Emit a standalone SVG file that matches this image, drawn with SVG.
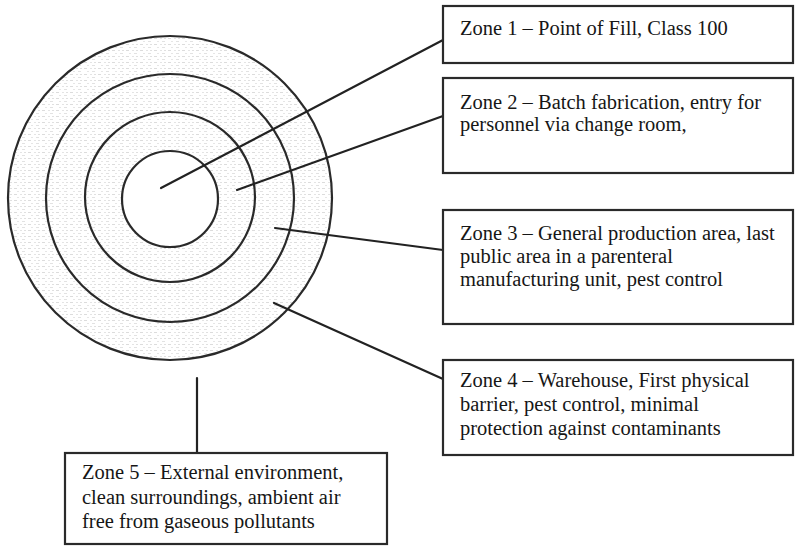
<svg xmlns="http://www.w3.org/2000/svg" width="795" height="548" viewBox="0 0 795 548">
  <defs>
    <!-- faint stipple used inside the rings -->
    <pattern id="stipple" width="14" height="6" patternUnits="userSpaceOnUse">
      <rect x="0" y="2" width="3" height="1" fill="#dcdcdc"/>
      <rect x="6" y="2" width="2" height="1" fill="#e4e4e4"/>
      <rect x="10" y="2" width="2" height="1" fill="#e0e0e0"/>
      <rect x="3" y="5" width="2" height="1" fill="#e6e6e6"/>
      <rect x="8" y="5" width="3" height="1" fill="#e2e2e2"/>
    </pattern>
    <mask id="ringMask">
      <circle cx="170" cy="198" r="162" fill="#fff"/>
      <circle cx="170" cy="198" r="48" fill="#000"/>
    </mask>
  </defs>
  <style>
    .ring { fill: none; stroke: #2a2a2a; stroke-width: 2.2; }
    .box { fill: #fff; stroke: #2a2a2a; stroke-width: 2.2; }
    .lbl { font-family: "Liberation Serif", "Times New Roman", serif; font-size: 20.5px; fill: #161616; }
    .conn line { stroke: #222; stroke-width: 2.2; stroke-linecap: round; }
  </style>

  <rect width="795" height="548" fill="#fff"/>

  <!-- concentric zones -->
  <g id="zones">
    <rect x="0" y="30" width="340" height="340" fill="url(#stipple)" mask="url(#ringMask)"/>
    <circle class="ring" cx="170" cy="198" r="162"/>
    <circle class="ring" cx="170" cy="198" r="124"/>
    <circle class="ring" cx="170" cy="197" r="85"/>
    <circle class="ring" cx="170" cy="199" r="48"/>
  </g>

  <!-- leader lines -->
  <g id="connectors" class="conn">
    <line x1="161" y1="188" x2="443" y2="40"/>
    <line x1="237" y1="190" x2="443" y2="116"/>
    <line x1="275" y1="228" x2="443" y2="250"/>
    <line x1="274" y1="303" x2="443" y2="379"/>
    <line x1="197" y1="378" x2="197" y2="453"/>
  </g>

  <g id="zone1">
    <rect class="box" x="443" y="6" width="350" height="57"/>
    <text class="lbl" x="460" y="35">Zone 1 – Point of Fill, Class 100</text>
  </g>

  <g id="zone2">
    <rect class="box" x="443" y="78" width="350" height="95"/>
    <text class="lbl" x="460" y="109">Zone 2 – Batch fabrication, entry for</text>
    <text class="lbl" x="460" y="131">personnel via change room,</text>
  </g>

  <g id="zone3">
    <rect class="box" x="443" y="210" width="350" height="114"/>
    <text class="lbl" x="460" y="240">Zone 3 – General production area, last</text>
    <text class="lbl" x="460" y="263">public area in a parenteral</text>
    <text class="lbl" x="460" y="286">manufacturing unit, pest control</text>
  </g>

  <g id="zone4">
    <rect class="box" x="443" y="360" width="350" height="95"/>
    <text class="lbl" x="460" y="387">Zone 4 – Warehouse, First physical</text>
    <text class="lbl" x="460" y="411">barrier, pest control, minimal</text>
    <text class="lbl" x="460" y="435">protection against contaminants</text>
  </g>

  <g id="zone5">
    <rect class="box" x="65" y="453" width="322" height="91"/>
    <text class="lbl" x="82" y="479">Zone 5 – External environment,</text>
    <text class="lbl" x="82" y="504">clean surroundings, ambient air</text>
    <text class="lbl" x="82" y="528">free from gaseous pollutants</text>
  </g>
</svg>
